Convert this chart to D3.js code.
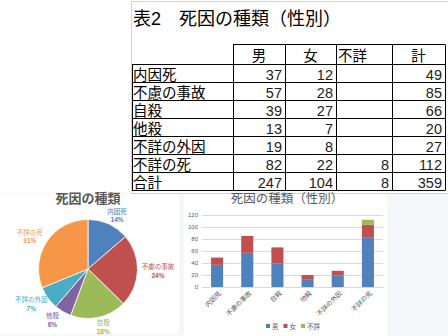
<!DOCTYPE html>
<html>
<head>
<meta charset="utf-8">
<script src="https://cdn.jsdelivr.net/npm/d3@7"></script>
<style>
  body { margin: 0; background: #fff; }
  svg { display: block; font-family: "Liberation Sans", "Noto Sans CJK JP", sans-serif; }
</style>
</head>
<body>
<div id="chart"></div>
<script>
// data
const causes = ["内因死", "不慮の事故", "自殺", "他殺", "不詳の外因", "不詳の死"];
const sexes = ["男", "女", "不詳"];
const male = [37, 57, 39, 13, 19, 82];
const female = [12, 28, 27, 7, 8, 22];
const unknownSex = [null, null, null, null, null, 8];
const totals = [49, 85, 66, 20, 27, 112];
const sumLabel = "合計";
const sumRow = [247, 104, 8, 359];
const tableHeaders = ["男", "女", "不詳", "計"];
const piePct = ["14%", "24%", "18%", "6%", "7%", "31%"];
const yTicks = [0, 20, 40, 60, 80, 100, 120];

const colors = ["#4F81BD", "#C0504D", "#9BBB59", "#8064A2", "#4BACC6", "#F79646"];
const grey = "#595959";

const svg = d3.select("#chart").append("svg")
    .attr("width", 448)
    .attr("height", 336);

// light backdrop behind the chart objects
svg.append("rect").attr("x", 0).attr("y", 193).attr("width", 448).attr("height", 143).attr("fill", "#f6f7fa");
svg.append("rect").attr("x", 0).attr("y", 194).attr("width", 179).attr("height", 140).attr("fill", "#fff");
svg.append("rect").attr("x", 184).attr("y", 194).attr("width", 203).attr("height", 142).attr("fill", "#fff");

// ---------- table ----------
const tbl = svg.append("g");
tbl.append("rect")
    .attr("x", 131.5).attr("y", 1.5).attr("width", 320).attr("height", 192)
    .attr("fill", "#fff").attr("stroke", "#d4d4d4");

tbl.append("text")
    .attr("x", 133).attr("y", 25)
    .style("font-size", "18px")
    .attr("fill", "#000")
    .text("表2　死因の種類（性別）");

const colEdges = [132, 233, 285, 336, 392, 445];
const rowLabels = causes.concat([sumLabel]);
const rowY = d3.scaleBand().domain(rowLabels).range([64.5, 190.5]);
const headTop = 44.5;
const fs = "14.5px";

const rows = causes.map((c, i) => [c, male[i], female[i], unknownSex[i], totals[i]])
    .concat([[sumLabel].concat(sumRow)]);

// header cells
tableHeaders.forEach((h, i) => {
    const x0 = colEdges[i + 1], x1 = colEdges[i + 2];
    tbl.append("text")
        .attr("x", h === "不詳" ? x0 + 2 : (x0 + x1) / 2)
        .attr("y", (headTop + rowY.range()[0]) / 2 + 1)
        .attr("dominant-baseline", "central")
        .attr("text-anchor", h === "不詳" ? "start" : "middle")
        .style("font-size", fs)
        .text(h);
});

// body cells
rows.forEach(r => {
    const cy = rowY(r[0]) + rowY.bandwidth() / 2 + 1;
    tbl.append("text")
        .attr("x", colEdges[0] + 1)
        .attr("y", cy)
        .attr("dominant-baseline", "central")
        .style("font-size", fs)
        .text(r[0]);
    r.slice(1).forEach((v, j) => {
        if (v == null) return;
        tbl.append("text")
            .attr("x", colEdges[j + 2] - 3)
            .attr("y", cy)
            .attr("dominant-baseline", "central")
            .attr("text-anchor", "end")
            .style("font-size", fs)
            .attr("fill", "#222")
            .text(v);
    });
});

// grid lines
tbl.append("line")
    .attr("x1", colEdges[1]).attr("x2", colEdges[5])
    .attr("y1", headTop).attr("y2", headTop)
    .attr("stroke", "#000");
rowLabels.forEach(l => {
    tbl.append("line")
        .attr("x1", colEdges[0]).attr("x2", colEdges[5])
        .attr("y1", rowY(l)).attr("y2", rowY(l))
        .attr("stroke", "#000");
});
tbl.append("line")
    .attr("x1", colEdges[0]).attr("x2", colEdges[5])
    .attr("y1", rowY.range()[1]).attr("y2", rowY.range()[1])
    .attr("stroke", "#000");
colEdges.forEach((x, i) => {
    tbl.append("line")
        .attr("x1", x + 0.5).attr("x2", x + 0.5)
        .attr("y1", i === 0 ? rowY.range()[0] : headTop)
        .attr("y2", rowY.range()[1])
        .attr("stroke", "#000");
});

// ---------- pie ----------
const pieG = svg.append("g").attr("transform", "translate(88,269)");
svg.append("text")
    .attr("x", 88).attr("y", 203)
    .attr("text-anchor", "middle")
    .style("font-size", "13px")
    .style("font-weight", "bold")
    .attr("fill", grey)
    .text("死因の種類");

const pie = d3.pie().sort(null).value(d => d.v);
const pieData = pie(causes.map((c, i) => ({ c: c, v: totals[i], p: piePct[i], col: colors[i] })));
const arc = d3.arc().innerRadius(0).outerRadius(49.5);

pieG.selectAll("path")
    .data(pieData)
    .enter().append("path")
    .attr("d", arc)
    .attr("fill", d => d.data.col)
    .attr("stroke", "#fff")
    .attr("stroke-width", 0.8);

const lab = pieG.selectAll(".plab")
    .data(pieData)
    .enter().append("g")
    .attr("class", "plab")
    .attr("transform", d => {
        const a = (d.startAngle + d.endAngle) / 2;
        return `translate(${Math.sin(a) * 70},${-Math.cos(a) * 59})`;
    });
lab.append("text")
    .attr("text-anchor", "middle")
    .attr("y", -1.5)
    .style("font-size", "6.5px")
    .attr("fill", d => d.data.col)
    .text(d => d.data.c);
lab.append("text")
    .attr("text-anchor", "middle")
    .attr("y", 7)
    .style("font-size", "6.5px")
    .style("font-weight", "bold")
    .attr("fill", d => d.data.col)
    .text(d => d.data.p);

// ---------- stacked bars ----------
svg.append("text")
    .attr("x", 287).attr("y", 203)
    .attr("text-anchor", "middle")
    .style("font-size", "12.5px")
    .attr("fill", grey)
    .text("死因の種類（性別）");

const x = d3.scaleBand().domain(causes).range([202, 383]).paddingInner(0.6).paddingOuter(0.3);
const y = d3.scaleLinear().domain([0, 120]).range([287, 215]);

const barRows = causes.map((c, i) => ({ cause: c, "男": male[i], "女": female[i], "不詳": unknownSex[i] || 0 }));
const series = d3.stack().keys(sexes)(barRows);

const yAxis = d3.axisLeft(y).tickValues(yTicks).tickSize(-(383 - 202)).tickPadding(4);
const yg = svg.append("g").attr("transform", "translate(202,0)").call(yAxis);
yg.select(".domain").remove();
yg.selectAll(".tick line").attr("stroke", "#d9d9d9");
yg.selectAll(".tick text").attr("fill", grey).style("font-size", "6px")
    .style("font-family", "'Liberation Sans', sans-serif");

svg.append("g").selectAll("g")
    .data(series)
    .enter().append("g")
    .attr("fill", (d, i) => colors[i])
    .selectAll("rect")
    .data(d => d)
    .enter().append("rect")
    .attr("x", d => x(d.data.cause))
    .attr("y", d => y(d[1]))
    .attr("width", x.bandwidth())
    .attr("height", d => y(d[0]) - y(d[1]));

const xg = svg.append("g").attr("transform", "translate(0,287)").call(d3.axisBottom(x).tickSize(0).tickPadding(0));
xg.select(".domain").attr("stroke", "#d9d9d9");
xg.selectAll(".tick text")
    .attr("fill", grey)
    .style("font-size", "6.5px")
    .style("font-family", "'Liberation Sans', 'Noto Sans CJK JP', sans-serif")
    .attr("text-anchor", "end")
    .attr("transform", "translate(3,5) rotate(-45)")
    .attr("dy", "0.35em");

// legend
const leg = svg.append("g").attr("transform", "translate(266,327)");
let lx = 0;
sexes.forEach((s, i) => {
    leg.append("rect").attr("x", lx).attr("y", -3).attr("width", 4).attr("height", 4).attr("fill", colors[i]);
    leg.append("text").attr("x", lx + 6).attr("y", 1.5)
        .style("font-size", "6.5px").attr("fill", grey).text(s);
    lx += s.length * 6.5 + 11;
});
</script>
</body>
</html>
